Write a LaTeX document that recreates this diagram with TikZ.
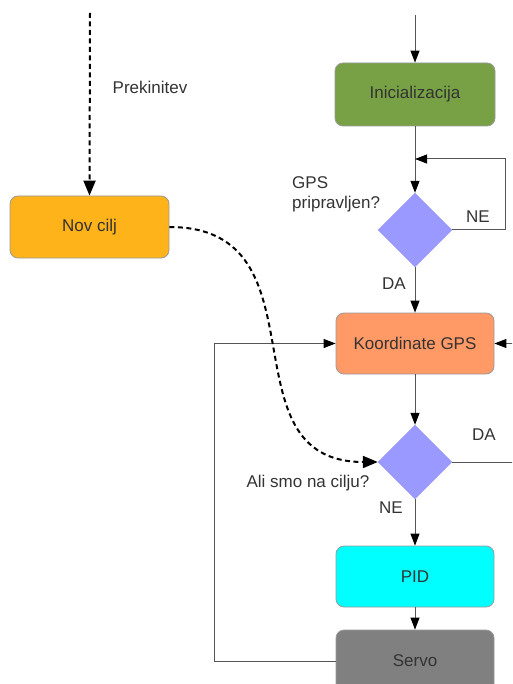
\documentclass[tikz,border=0pt]{standalone}
\usepackage{fontspec}
\setmainfont{Liberation Sans}
\usetikzlibrary{arrows.meta,shapes.geometric}
\definecolor{txt}{HTML}{333333}
\definecolor{wire}{HTML}{555555}
\definecolor{boxline}{HTML}{9A9A9A}
\definecolor{cilj}{HTML}{FDB319}
\definecolor{zelena}{HTML}{77A144}
\definecolor{losos}{HTML}{FF9966}
\definecolor{modra}{HTML}{9999FF}
\definecolor{cian}{HTML}{00FFFF}
\definecolor{siva}{HTML}{808080}
\tikzset{
  every node/.style={text=txt, font=\fontsize{17}{20}\selectfont},
  stepbox/.style={rectangle, rounded corners=8pt, draw=boxline, line width=0.8pt,
    minimum width=158pt, minimum height=62pt, inner sep=0pt},
  decision/.style={diamond, aspect=1, fill=modra, draw=modra, inner sep=0pt,
    minimum size=74pt},
  flow/.style={draw=wire, line width=1pt, -{Triangle[length=12pt,width=9pt,fill=black,color=black]}},
  plainflow/.style={draw=wire, line width=1pt},
  interrupt/.style={draw=black, line width=2pt, dash pattern=on 5pt off 3.5pt,
    -{Triangle[length=15pt,width=12pt,fill=black,color=black]}},
  tag/.style={inner sep=0pt},
}
\begin{document}
\begin{tikzpicture}[x=1pt,y=-1pt]
  \useasboundingbox (0,0) rectangle (512,684);
  \clip (0,0) rectangle (512,684);

  % process boxes
  \node[stepbox, fill=cilj, minimum width=159pt] (nov) at (89.5,227) {Nov cilj};
  \node[stepbox, fill=zelena, minimum width=160pt, minimum height=63pt] (init) at (415,94.5) {Inicializacija};
  \node[stepbox, fill=losos, minimum height=61pt] (koord) at (415,343.5) {Koordinate GPS};
  \node[stepbox, fill=cian, minimum height=61pt] (pid) at (415,576.5) {PID};
  \node[stepbox, fill=siva, minimum height=62pt] (servo) at (415,661) {Servo};

  % decisions
  \node[decision] (gps) at (415,230) {};
  \node[decision] (cilju) at (415,462) {};

  % free ends and bends
  \coordinate (vhod) at (415,15);
  \coordinate (prek) at (90,13);
  \coordinate (zanka) at (415,159);
  \coordinate (nedesno) at (505,230);
  \coordinate (desnovhod) at (513,343.5);
  \coordinate (dadesno) at (513,462);
  \coordinate (levo) at (214,661);

  % main flow
  \draw[flow] (vhod) -- (init.north);
  \draw[flow] (init.south) -- (gps.north);
  \draw[flow] (gps.south) -- (koord.north);
  \draw[flow] (koord.south) -- (cilju.north);
  \draw[flow] (cilju.south) -- (pid.north);
  \draw[flow] (pid.south) -- (servo.north);

  % loops
  \draw[flow] (gps.east) -- (nedesno) |- (zanka);
  \draw[flow] (desnovhod) -- (koord.east);
  \draw[plainflow] (cilju.east) -- (dadesno);
  \draw[flow] (servo.west) -- (levo) |- (koord.west);

  % interrupt path
  \draw[interrupt] (prek) -- (nov.north);
  \draw[interrupt] (nov.east) .. controls (330,227) and (220,462) .. (cilju.west);

  % labels
  \node[tag] (tprek) at (150,87) {Prekinitev};
  \node[tag, anchor=west, align=left] (tgps) at (292,194) {GPS\\pripravljen?};
  \node[tag] (tne1) at (478,217) {NE};
  \node[tag] (tda1) at (394,284) {DA};
  \node[tag] (tda2) at (484,435) {DA};
  \node[tag] (tali) at (308,483) {Ali smo na cilju?};
  \node[tag] (tne2) at (391,508) {NE};
\end{tikzpicture}
\end{document}
